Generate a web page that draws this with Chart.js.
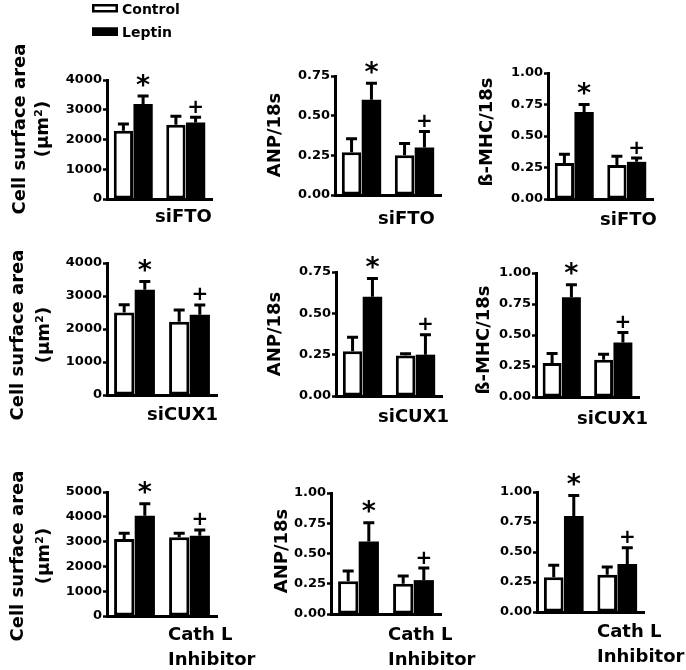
<!DOCTYPE html>
<html>
<head>
<meta charset="utf-8">
<script src="https://cdn.jsdelivr.net/npm/chart.js@4.4.1/dist/chart.umd.min.js"></script>
<style>
  html, body { margin: 0; padding: 0; background: #fff; }
  #fig { position: relative; width: 686px; height: 670px; overflow: hidden; }
  #fig canvas { position: absolute; left: 0; top: 0; }
</style>
</head>
<body>
<div id="fig"></div>
<script>
// Two groups per panel (scrambled / treated), Control vs Leptin in each.
const groups = ['', ''];
const seriesNames = ['Control', 'Leptin'];
const treatments = [['siFTO'], ['siCUX1'], ['Cath L', 'Inhibitor']];
const marks = ['*', '+'];               // drawn over the Leptin bars

const areaTicks   = [0, 1000, 2000, 3000, 4000];
const areaTicks5k = [0, 1000, 2000, 3000, 4000, 5000];
const anpTicks    = [0, 0.25, 0.5, 0.75];
const ratioTicks  = [0, 0.25, 0.5, 0.75, 1];

// siFTO row  (mean, +SEM)
const ftoAreaCtrl = [2290, 2500], ftoAreaCtrlErr = [230, 280];
const ftoAreaLep  = [3190, 2570], ftoAreaLepErr  = [270, 180];
const ftoAnpCtrl  = [0.27, 0.25], ftoAnpCtrlErr  = [0.085, 0.075];
const ftoAnpLep   = [0.60, 0.30], ftoAnpLepErr   = [0.105, 0.10];
const ftoMhcCtrl  = [0.285, 0.27], ftoMhcCtrlErr = [0.07, 0.07];
const ftoMhcLep   = [0.69, 0.295], ftoMhcLepErr  = [0.06, 0.03];

// siCUX1 row
const cuxAreaCtrl = [2500, 2220], cuxAreaCtrlErr = [235, 355];
const cuxAreaLep  = [3190, 2430], cuxAreaLepErr  = [250, 300];
const cuxAnpCtrl  = [0.27, 0.245], cuxAnpCtrlErr = [0.085, 0.01];
const cuxAnpLep   = [0.60, 0.25], cuxAnpLepErr   = [0.11, 0.12];
const cuxMhcCtrl  = [0.275, 0.30], cuxMhcCtrlErr = [0.075, 0.045];
const cuxMhcLep   = [0.805, 0.44], cuxMhcLepErr  = [0.10, 0.08];

// Cath L inhibitor row
const catAreaCtrl = [3100, 3180], catAreaCtrlErr = [240, 160];
const catAreaLep  = [4040, 3240], catAreaLepErr  = [490, 230];
const catAnpCtrl  = [0.27, 0.25], catAnpCtrlErr  = [0.085, 0.065];
const catAnpLep   = [0.60, 0.28], catAnpLepErr   = [0.155, 0.10];
const catMhcCtrl  = [0.29, 0.31], catMhcCtrlErr  = [0.10, 0.065];
const catMhcLep   = [0.80, 0.40], catMhcLepErr   = [0.17, 0.135];

const AREA = ['Cell surface area', '(µm²)'];
const W = 686, H = 670, YW = 60;
const FONT = '"DejaVu Sans", sans-serif';

// box = [left, right, top, bottom] of each plot area
const panels = [
  { ctrl: ftoAreaCtrl, ctrlErr: ftoAreaCtrlErr, lep: ftoAreaLep, lepErr: ftoAreaLepErr, ticks: areaTicks, dec: 0,
    title: AREA, titleX: [18, 41], titleY: 129, xl: treatments[0], xlAt: [155, 215], box: [107, 212, 80, 199], legend: true },
  { ctrl: ftoAnpCtrl, ctrlErr: ftoAnpCtrlErr, lep: ftoAnpLep, lepErr: ftoAnpLepErr, ticks: anpTicks, dec: 2,
    title: ['ANP/18s'], titleX: [273], titleY: 135, xl: treatments[0], xlAt: [378, 217], box: [335, 441, 76, 195] },
  { ctrl: ftoMhcCtrl, ctrlErr: ftoMhcCtrlErr, lep: ftoMhcLep, lepErr: ftoMhcLepErr, ticks: ratioTicks, dec: 2,
    title: ['ß-MHC/18s'], titleX: [485], titleY: 132, xl: treatments[0], xlAt: [600, 218], box: [548, 653, 73, 199] },

  { ctrl: cuxAreaCtrl, ctrlErr: cuxAreaCtrlErr, lep: cuxAreaLep, lepErr: cuxAreaLepErr, ticks: areaTicks, dec: 0,
    title: AREA, titleX: [16, 42], titleY: 335, xl: treatments[1], xlAt: [147, 413], box: [107, 217, 263, 395] },
  { ctrl: cuxAnpCtrl, ctrlErr: cuxAnpCtrlErr, lep: cuxAnpLep, lepErr: cuxAnpLepErr, ticks: anpTicks, dec: 2,
    title: ['ANP/18s'], titleX: [273], titleY: 334, xl: treatments[1], xlAt: [378, 415], box: [336, 442, 272, 396] },
  { ctrl: cuxMhcCtrl, ctrlErr: cuxMhcCtrlErr, lep: cuxMhcLep, lepErr: cuxMhcLepErr, ticks: ratioTicks, dec: 2,
    title: ['ß-MHC/18s'], titleX: [482], titleY: 340, xl: treatments[1], xlAt: [577, 417], box: [536, 639, 273, 397] },

  { ctrl: catAreaCtrl, ctrlErr: catAreaCtrlErr, lep: catAreaLep, lepErr: catAreaLepErr, ticks: areaTicks5k, dec: 0,
    title: AREA, titleX: [16, 42], titleY: 556, xl: treatments[2], xlAt: [168, 633], box: [107, 217, 492, 616] },
  { ctrl: catAnpCtrl, ctrlErr: catAnpCtrlErr, lep: catAnpLep, lepErr: catAnpLepErr, ticks: ratioTicks, dec: 2,
    title: ['ANP/18s'], titleX: [280], titleY: 551, xl: treatments[2], xlAt: [388, 633], box: [331, 441, 493, 614] },
  { ctrl: catMhcCtrl, ctrlErr: catMhcCtrlErr, lep: catMhcLep, lepErr: catMhcLepErr, ticks: ratioTicks, dec: 2,
    title: [], titleX: [], titleY: 0, xl: treatments[2], xlAt: [597, 630], box: [537, 644, 492, 612] }
];

// text centred on cap height, optionally rotated
function capText(ctx, text, x, y, size, align, rot) {
  ctx.save();
  ctx.translate(x, y);
  if (rot) ctx.rotate(rot);
  ctx.font = `bold ${size}px ${FONT}`;
  ctx.textAlign = align;
  ctx.textBaseline = 'alphabetic';
  ctx.fillStyle = '#000';
  ctx.fillText(text, 0, 0.729 * size / 2);
  ctx.restore();
}

function glyph(ctx, ch, x, cy, size) {
  ctx.font = `bold ${size}px ${FONT}`;
  ctx.textAlign = 'center';
  ctx.textBaseline = 'alphabetic';
  const m = ctx.measureText(ch);
  ctx.fillText(ch, x, cy + (m.actualBoundingBoxAscent - m.actualBoundingBoxDescent) / 2);
}

const deco = {
  id: 'deco',
  afterDatasetsDraw(chart, args, o) {
    const ctx = chart.ctx, y = chart.scales.y;
    ctx.save();
    ctx.strokeStyle = '#000';
    ctx.fillStyle = '#000';
    ctx.lineWidth = 3;
    chart.data.datasets.forEach((ds, d) => {
      chart.getDatasetMeta(d).data.forEach((bar, i) => {
        const v = ds.data[i];
        const top = y.getPixelForValue(v + ds.err[i]);
        ctx.beginPath();
        ctx.moveTo(bar.x, y.getPixelForValue(v));
        ctx.lineTo(bar.x, top);
        ctx.moveTo(bar.x - 5.5, top);
        ctx.lineTo(bar.x + 5.5, top);
        ctx.stroke();
        if (d === 1) {
          if (marks[i] === '*') glyph(ctx, '*', bar.x, top - 16, 27);
          else glyph(ctx, '+', bar.x, top - 11, 20);
        }
      });
    });
    ctx.restore();
  },
  afterDraw(chart, args, o) {
    const ctx = chart.ctx;
    o.title.forEach((line, j) => capText(ctx, line, o.titleX[j], o.titleY, 18, 'center', -Math.PI / 2));
    o.xl.forEach((line, j) => capText(ctx, line, o.xlAt[0], o.xlAt[1] + j * 25, 18, 'left'));
    if (o.legend) {
      const rows = [4, 27.5];
      chart.data.datasets.forEach((ds, d) => {
        ctx.save();
        ctx.fillStyle = ds.backgroundColor;
        ctx.fillRect(92, rows[d], 26, 8.5);
        ctx.strokeStyle = ds.borderColor;
        ctx.lineWidth = 2.5;
        ctx.strokeRect(93.25, rows[d] + 1.25, 23.5, 6);
        ctx.restore();
        capText(ctx, ds.label, 122, rows[d] + 4.5, 14, 'left');
      });
    }
  }
};

const fig = document.getElementById('fig');
panels.forEach(p => {
  const cv = document.createElement('canvas');
  cv.width = W; cv.height = H;
  fig.appendChild(cv);
  const [L, R, T, B] = p.box;
  new Chart(cv, {
    type: 'bar',
    data: {
      labels: groups,
      datasets: [
        { label: seriesNames[0], data: p.ctrl, err: p.ctrlErr, backgroundColor: '#fff', borderColor: '#000',
          borderWidth: 3, borderSkipped: false, categoryPercentage: 0.75, barPercentage: 0.98 },
        { label: seriesNames[1], data: p.lep, err: p.lepErr, backgroundColor: '#000', borderColor: '#000',
          borderWidth: 0, categoryPercentage: 0.75, barPercentage: 0.98 }
      ]
    },
    options: {
      responsive: false,
      animation: false,
      devicePixelRatio: 1,
      events: [],
      layout: { padding: { left: L - YW, right: W - R, top: T, bottom: H - B } },
      plugins: {
        legend: { display: false },
        tooltip: { enabled: false },
        deco: { title: p.title, titleX: p.titleX, titleY: p.titleY, xl: p.xl, xlAt: p.xlAt, legend: !!p.legend }
      },
      scales: {
        x: {
          ticks: { display: false },
          grid: { display: false },
          border: { color: '#000', width: 3 },
          afterFit: s => { s.height = 0; }
        },
        y: {
          min: 0,
          max: p.ticks[p.ticks.length - 1],
          afterBuildTicks: s => { s.ticks = p.ticks.map(v => ({ value: v })); },
          ticks: {
            autoSkip: false, padding: 1, color: '#000',
            font: { family: FONT, size: 13, weight: 'bold' },
            callback: v => Number(v).toFixed(p.dec)
          },
          grid: { drawOnChartArea: false, tickLength: 4, tickWidth: 2.5, tickColor: '#000' },
          border: { color: '#000', width: 3 },
          afterFit: s => { s.width = YW; }
        }
      }
    },
    plugins: [deco]
  });
});
</script>
</body>
</html>
